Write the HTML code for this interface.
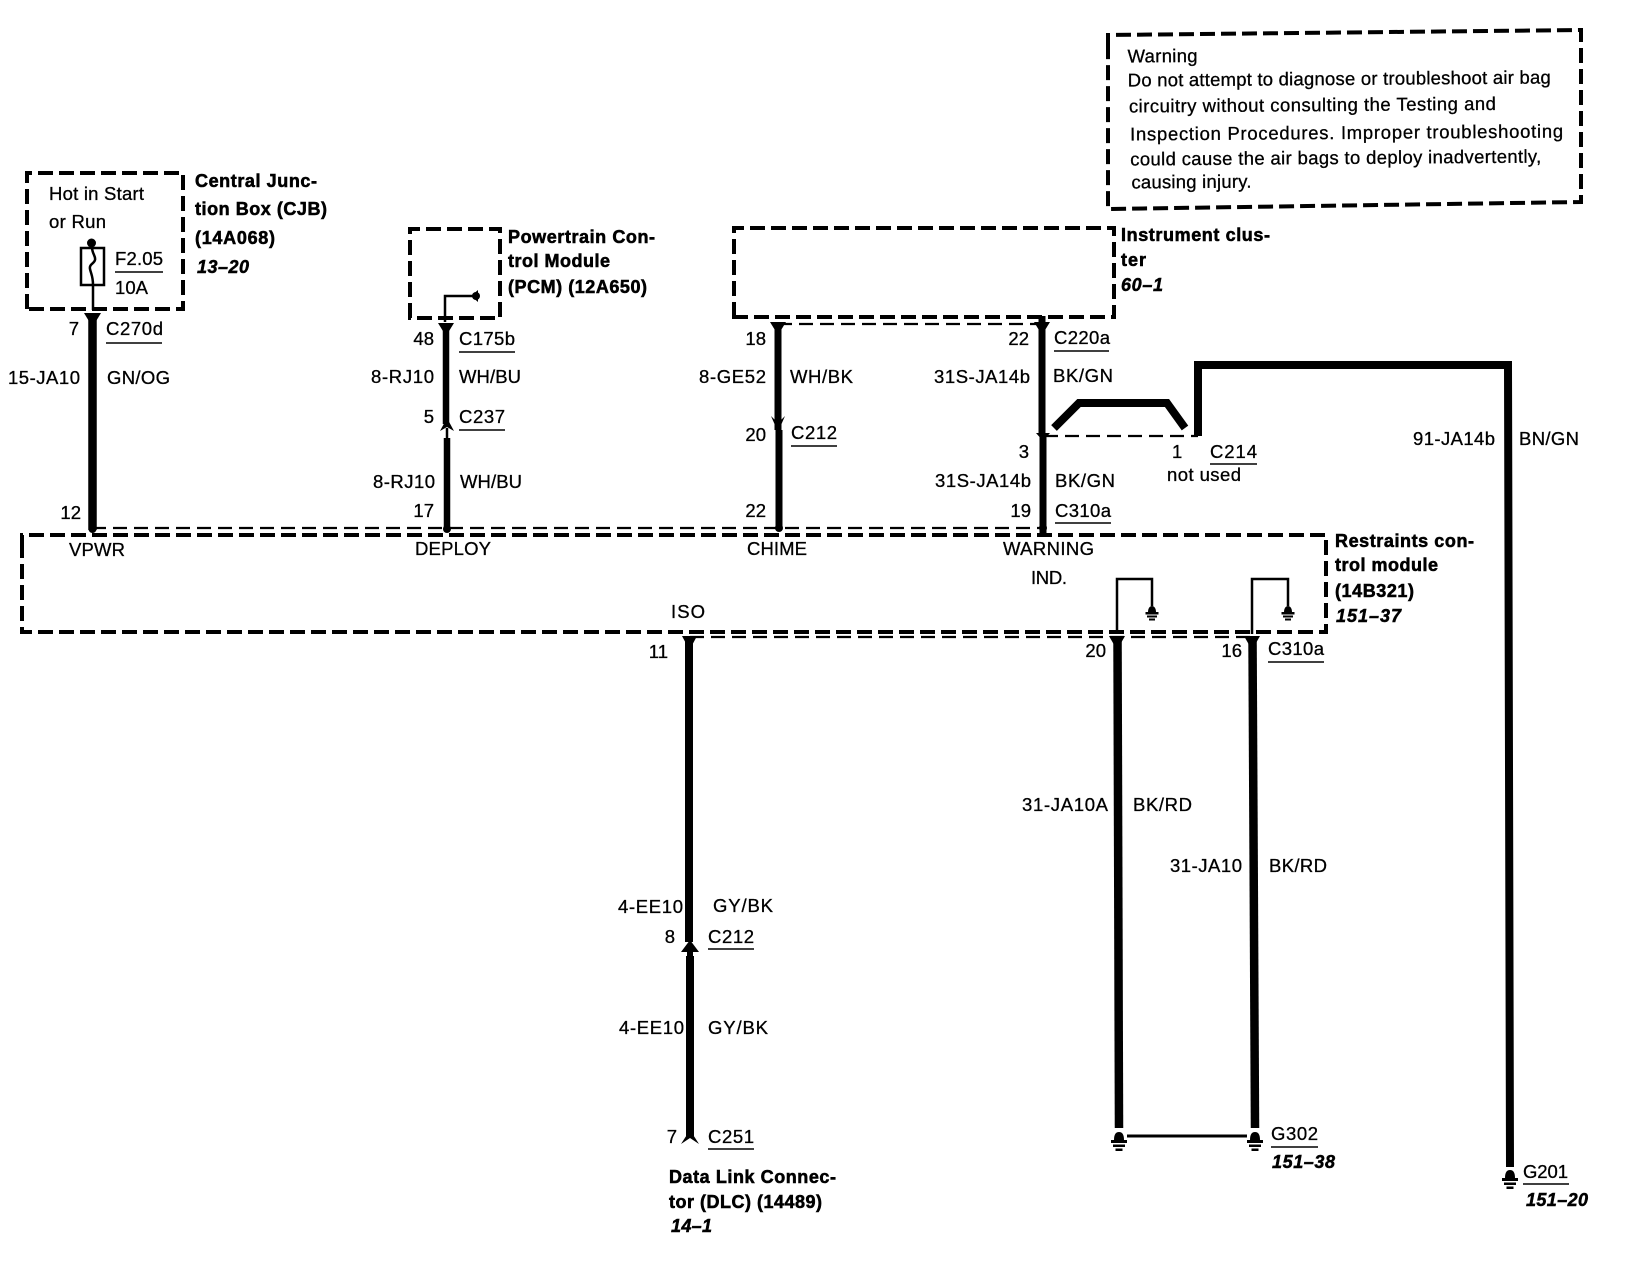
<!DOCTYPE html>
<html><head><meta charset="utf-8"><title>Restraints wiring diagram</title>
<style>
html,body{margin:0;padding:0;background:#fff}
svg{display:block}
text{font-family:"Liberation Sans",Arial,sans-serif;font-size:18.5px;fill:#000;stroke:#000;stroke-width:.3}
.b{font-weight:bold;font-size:18px;stroke-width:.55}
.i{font-weight:bold;font-style:italic;font-size:18px;stroke-width:.5}
.r{text-anchor:end}
.w{font-size:18.5px}
.box{fill:none;stroke:#000;stroke-width:4;stroke-dasharray:15 6}
.thin{fill:none;stroke:#000;stroke-width:2.200;stroke-dasharray:14 7}
.ln{fill:none;stroke:#000;stroke-width:2.500}
.u{fill:none;stroke:#000;stroke-width:1.600}
.wire{fill:none;stroke:#000;stroke-linejoin:miter}
</style></head><body>
<svg xmlns="http://www.w3.org/2000/svg" width="1644" height="1264" viewBox="0 0 1644 1264">
<defs>
<g id="gnd"><path d="M-5 8C-5 2-3 0 0 0S5 2 5 8Z"/><rect x="-8" y="8" width="16" height="3"/><rect x="-6" y="12.500" width="12" height="2.500"/><rect x="-3.500" y="16.500" width="7" height="2.500"/></g>
<g id="gnds"><path d="M-4 6C-4 2-2 0 0 0S4 2 4 6Z"/><rect x="-6.500" y="6" width="13" height="2.500"/><rect x="-5" y="9.500" width="10" height="2"/><rect x="-3" y="12.500" width="6" height="2"/></g>
</defs>
<rect width="1644" height="1264" fill="#fff"/>

<!-- Warning -->
<path class="box" d="M1108 48V35L1581 30V202L1108 209V35"/>
<g transform="rotate(-0.4 1340 120)">
<text x="1128" y="61" class="w" textLength="70">Warning</text>
<text x="1128" y="85" class="w" textLength="423">Do not attempt to diagnose or troubleshoot air bag</text>
<text x="1129" y="111" class="w" textLength="367">circuitry without consulting the Testing and</text>
<text x="1130" y="139" class="w" textLength="433">Inspection Procedures.  Improper troubleshooting</text>
<text x="1130" y="164" class="w" textLength="411">could cause the air bags  to deploy  inadvertently,</text>
<text x="1131" y="187" class="w" textLength="120">causing injury.</text>
</g>

<!-- CJB -->
<path class="box" d="M27 309V173H183V309Z"/>
<text x="49" y="200" textLength="95">Hot in Start</text>
<text x="49" y="228" textLength="57">or Run</text>
<circle cx="91.500" cy="243" r="4.500"/>
<rect x="81" y="248" width="23" height="37" fill="none" stroke="#000" stroke-width="2.500"/>
<path class="ln" d="M92 247C92 254 96 256 95 260C94 264 89 264 90 269C91 274 93 276 93 285V310"/>
<text x="115" y="265" textLength="48">F2.05</text>
<path class="u" d="M115 272H163"/>
<text x="115" y="294" textLength="33">10A</text>
<text class="b" x="195" y="187" textLength="122">Central Junc-</text>
<text class="b" x="195" y="215" textLength="132">tion Box (CJB)</text>
<text class="b" x="195" y="244" textLength="80">(14A068)</text>
<text class="i" x="197" y="273" textLength="52">13–20</text>
<path class="wire" stroke-width="8.500" d="M92.500 316V530"/>
<path d="M84 313H101L92.500 327Z"/>
<text class="r" x="79" y="335">7</text>
<text x="106" y="335" textLength="57">C270d</text><path class="u" d="M106 343H162"/>
<text x="8" y="384" textLength="72">15-JA10</text>
<text x="107" y="384" textLength="63">GN/OG</text>
<text class="r" x="81" y="519">12</text>

<!-- PCM -->
<path class="box" d="M410 318V229H500V318Z"/>
<text class="b" x="508" y="243" textLength="147">Powertrain Con-</text>
<text class="b" x="508" y="267" textLength="102">trol Module</text>
<text class="b" x="508" y="293" textLength="139">(PCM) (12A650)</text>
<path class="ln" d="M445 322V296H474"/>
<path d="M471 296L478 290V302Z"/><circle cx="476" cy="296" r="4"/>
<path class="wire" stroke-width="6.500" d="M446 326V424"/>
<path class="wire" stroke-width="6.500" d="M447 438V530"/>
<path class="ln" d="M447 428V440"/>
<path d="M438 323H454L446 336Z"/>
<path d="M440 431L447 418L454 431L447 427Z"/>
<text class="r" x="434" y="345">48</text>
<text x="459" y="345" textLength="56">C175b</text><path class="u" d="M459 352H515"/>
<text x="371" y="383" textLength="63">8-RJ10</text>
<text x="459" y="383" textLength="62">WH/BU</text>
<text class="r" x="434" y="423">5</text>
<text x="459" y="423" textLength="46">C237</text><path class="u" d="M459 430H505"/>
<text x="373" y="488" textLength="62">8-RJ10</text>
<text x="460" y="488" textLength="62">WH/BU</text>
<text class="r" x="434" y="517">17</text>

<!-- Instrument cluster -->
<path class="box" d="M734 317V228H1114V317Z"/>
<text class="b" x="1121" y="241" textLength="149">Instrument clus-</text>
<text class="b" x="1121" y="266" textLength="25">ter</text>
<text class="i" x="1121" y="291" textLength="42">60–1</text>
<path class="thin" d="M778 324H1042"/>
<path class="wire" stroke-width="7" d="M778 326V430M779 430V530"/>
<path d="M770 322H786L778 335Z"/>
<path d="M771 416L778 423L785 416L778 432Z"/>
<text class="r" x="766" y="345">18</text>
<text x="699" y="383" textLength="67">8-GE52</text>
<text x="790" y="383" textLength="63">WH/BK</text>
<text class="r" x="766" y="441">20</text>
<text x="791" y="439" textLength="46">C212</text><path class="u" d="M791 446H837"/>
<text class="r" x="766" y="517">22</text>

<path class="wire" stroke-width="7" d="M1042 316V436M1043 436V534"/>
<path d="M1034 322H1050L1042 335Z"/>
<path d="M1036 433H1050L1043 441Z"/>
<text class="r" x="1029" y="345">22</text>
<text x="1054" y="344" textLength="56">C220a</text><path class="u" d="M1054 351H1109"/>
<text x="934" y="383" textLength="96">31S-JA14b</text>
<text x="1053" y="382" textLength="60">BK/GN</text>
<path class="wire" stroke-width="8" d="M1054 428L1079 403H1167L1185 428"/>
<path class="thin" d="M1044 436H1198"/>
<path class="wire" stroke-width="8" d="M1198 436V365H1508L1510 1167"/>
<text class="r" x="1029" y="458">3</text>
<text x="1172" y="458">1</text>
<text x="1210" y="458" textLength="47">C214</text><path class="u" d="M1210 464H1257"/>
<text x="1167" y="481" textLength="74">not used</text>
<text x="1413" y="445" textLength="82">91-JA14b</text>
<text x="1519" y="445" textLength="60">BN/GN</text>
<text x="935" y="487" textLength="96">31S-JA14b</text>
<text x="1055" y="487" textLength="60">BK/GN</text>
<text class="r" x="1031" y="517">19</text>
<text x="1055" y="517" textLength="56">C310a</text><path class="u" d="M1055 523H1111"/>

<!-- Restraints module -->
<path class="thin" d="M92 528H1043"/>
<path class="box" d="M22 549V535H1326V632H22V535"/>
<circle cx="92.500" cy="529" r="4"/><circle cx="447" cy="529" r="4"/><circle cx="779" cy="528" r="4"/><circle cx="1043" cy="528" r="4"/>
<text x="69" y="556" textLength="56">VPWR</text>
<text x="415" y="555" textLength="76">DEPLOY</text>
<text x="747" y="555" textLength="60">CHIME</text>
<text x="1003" y="555" textLength="91">WARNING</text>
<text x="1031" y="584" textLength="36">IND.</text>
<text x="671" y="618" textLength="34">ISO</text>
<text class="b" x="1335" y="547" textLength="139">Restraints con-</text>
<text class="b" x="1335" y="571" textLength="103">trol module</text>
<text class="b" x="1335" y="597" textLength="79">(14B321)</text>
<text class="i" x="1336" y="622" textLength="65">151–37</text>
<path class="ln" d="M1117 634V579H1152V606"/>
<path class="ln" d="M1252 634V579H1288V606"/>
<use href="#gnds" x="1152" y="606"/>
<use href="#gnds" x="1288" y="606"/>

<!-- Lower dashed and lower wires -->
<path class="thin" d="M690 637H1255"/>
<path class="wire" stroke-width="8" d="M689 636V942M690 956V1136"/>
<path d="M682 636H697L689.500 650Z"/>
<path d="M681 952L690 940L699 952H693V958H687V952Z"/>
<path d="M681 1144L690 1130L699 1144L690 1138Z"/>
<text class="r" x="668" y="658">11</text>
<text x="618" y="913" textLength="65">4-EE10</text>
<text x="713" y="912" textLength="60">GY/BK</text>
<text class="r" x="675" y="943">8</text>
<text x="708" y="943" textLength="46">C212</text><path class="u" d="M708 949H754"/>
<text x="619" y="1034" textLength="65">4-EE10</text>
<text x="708" y="1034" textLength="60">GY/BK</text>
<text class="r" x="677" y="1143">7</text>
<text x="708" y="1143" textLength="46">C251</text><path class="u" d="M708 1149H754"/>
<text class="b" x="669" y="1183" textLength="167">Data Link Connec-</text>
<text class="b" x="669" y="1208" textLength="153">tor (DLC) (14489)</text>
<text class="i" x="671" y="1232" textLength="41">14–1</text>

<path class="wire" stroke-width="8.500" d="M1117.500 636L1119 1128"/>
<path class="wire" stroke-width="8.500" d="M1252.500 636L1255 1128"/>
<path d="M1109 636H1125L1117 650Z"/>
<path d="M1244 636H1260L1252 650Z"/>
<text class="r" x="1106" y="657">20</text>
<text class="r" x="1242" y="657">16</text>
<text x="1268" y="655" textLength="56">C310a</text><path class="u" d="M1268 662H1324"/>
<text x="1022" y="811" textLength="86">31-JA10A</text>
<text x="1133" y="811" textLength="59">BK/RD</text>
<text x="1170" y="872" textLength="72">31-JA10</text>
<text x="1269" y="872" textLength="58">BK/RD</text>
<use href="#gnd" x="1119" y="1132"/>
<use href="#gnd" x="1255" y="1132"/>
<path fill="none" stroke="#000" stroke-width="3" d="M1127 1136H1247"/>
<text x="1271" y="1140" textLength="47">G302</text><path class="u" d="M1271 1147H1318"/>
<text class="i" x="1272" y="1168" textLength="63">151–38</text>
<use href="#gnd" x="1510" y="1170"/>
<text x="1523" y="1178" textLength="45">G201</text><path class="u" d="M1523 1184H1569"/>
<text class="i" x="1526" y="1206" textLength="62">151–20</text>
</svg>
</body></html>
